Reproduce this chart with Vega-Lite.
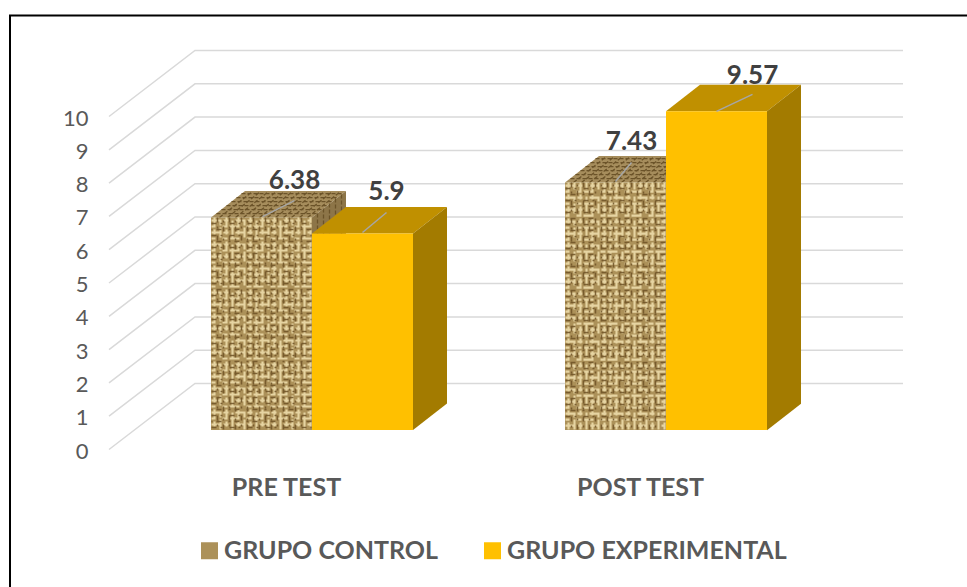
{
"$schema":"https://vega.github.io/schema/vega-lite/v6.json",
"width":967,"height":587,"padding":0,"autosize":{"type":"none"},"background":"white",
"config":{"view":{"stroke":null},"font":"Lato"},
"data":{"values":[
{"momento":"PRE TEST","grupo":"GRUPO CONTROL","valor":6.38},
{"momento":"PRE TEST","grupo":"GRUPO EXPERIMENTAL","valor":5.9},
{"momento":"POST TEST","grupo":"GRUPO CONTROL","valor":7.43},
{"momento":"POST TEST","grupo":"GRUPO EXPERIMENTAL","valor":9.57}
]},
"encoding":{
"x":{"field":"momento","type":"nominal","sort":["PRE TEST","POST TEST"],"title":null,
"scale":{"domain":["PRE TEST","POST TEST"],"range":[135,843],"paddingInner":0.4294,"paddingOuter":0.2147},
"axis":{"orient":"bottom","offset":-112,"domain":false,"ticks":false,"labelPadding":0,"labelAngle":0,"labelFontSize":25,"labelFontWeight":"bold","labelColor":"#595959","labelOffset":-25.5,"labelBaseline":"top","labelFont":"Lato"}},
"y":{"field":"valor","type":"quantitative","title":null,
"scale":{"domain":[-4.7147,12.913],"nice":false,"zero":false},
"axis":{"orient":"left","offset":-95,"values":[0,1,2,3,4,5,6,7,8,9,10],"domain":false,"ticks":false,"grid":false,"labelPadding":7,"labelFontSize":22,"labelColor":"#595959","labelOffset":21,"labelFont":"Lato","format":"d"}},
"xOffset":{"field":"grupo","type":"nominal","scale":{"domain":["GRUPO CONTROL","GRUPO EXPERIMENTAL"]}}
},
"resolve":{"scale":{"shape":"independent"}},
"layer":[
{"data":{"values":[{"valor":0},{"valor":1},{"valor":2},{"valor":3},{"valor":4},{"valor":5},{"valor":6},{"valor":7},{"valor":8},{"valor":9},{"valor":10}]},
"mark":{"type":"point","shape":"M-203,19.5L-117,-46.5L591,-46.5","size":4,"filled":false,"stroke":"#d9d9d9","strokeWidth":1.5,"opacity":1},
"encoding":{"x":{"datum":"PRE TEST"},"xOffset":null}},
{"data":{"values":[{"valor":0}]},
"mark":{"type":"point","shape":"M-302,157V-414.5H660","size":4,"filled":false,"stroke":"#000000","strokeWidth":2,"opacity":1},
"encoding":{"x":{"datum":"PRE TEST"},"xOffset":null}},

{"transform":[{"filter":"datum.grupo==='GRUPO CONTROL'"}],
"mark":{"type":"point","shape":"M-50.5,0L-16.5,-26.5L84.5,-26.5L50.5,0Z","size":4,"filled":true,"fill":"#a68d5c","strokeWidth":0,"opacity":1}},
{"transform":[{"filter":"datum.grupo==='GRUPO CONTROL'"}],
"mark":{"type":"point","filled":true,"size":4,"fill":"#8d7548","strokeWidth":0,"opacity":1},
"encoding":{"shape":{"field":"momento","type":"nominal","legend":null,"scale":{"domain":["PRE TEST","POST TEST"],"range":["M50.5,0L84.5,-26.5V186L50.5,212.5Z","M50.5,0L84.5,-26.5V221L50.5,247.5Z"]}}}},
{"transform":[{"filter":"datum.grupo==='GRUPO CONTROL'"}],
"mark":{"type":"point","shape":"M-45,-4h100m-95,-4h100m-95,-4h100m-95,-4h100m-95,-4h100m-95,-4h100M-42,0l33,-26m-25,26l33,-26m-25,26l33,-26m-25,26l33,-26m-25,26l33,-26m-25,26l33,-26m-25,26l33,-26m-25,26l33,-26m-25,26l33,-26m-25,26l33,-26m-25,26l33,-26m-25,26l33,-26M56,-4v36M62,-9v40M68,-14v46M74,-19v50M80,-23v54","size":4,"filled":false,"stroke":"#6b5329","strokeWidth":1.3,"strokeDash":[4,2],"opacity":1}},
{"transform":[{"filter":"datum.grupo==='GRUPO CONTROL'"}],
"mark":{"type":"bar","stroke":null,"strokeWidth":0},
"encoding":{"y2":{"datum":0},"y":{"field":"valor","type":"quantitative","stack":null},
"color":{"field":"grupo","type":"nominal","title":null,
"scale":{"domain":["GRUPO CONTROL","GRUPO EXPERIMENTAL"],"range":["#ac9159","#FFC000"]},
"legend":{"orient":"none","legendX":197,"legendY":538,"direction":"horizontal","columns":2,"symbolType":"square","symbolSize":289,"symbolStrokeWidth":0,"symbolOpacity":1,"labelFontSize":25,"labelFontWeight":"bold","labelColor":"#595959","labelFont":"Lato","columnPadding":41,"labelOffset":2,"labelLimit":400,"title":null}}}},
{"transform":[{"filter":"datum.grupo==='GRUPO CONTROL'"}],
"mark":{"type":"point","filled":false,"size":4,"stroke":"#e6d4a2","strokeWidth":2.1,"strokeDash":[10,2,5,7],"opacity":1},
"encoding":{"shape":{"field":"momento","type":"nominal","legend":null,"scale":{"domain":["PRE TEST","POST TEST"],"range":[
"M-50,3h100m0,6h-100m0,6h100m0,6h-100m0,6h100m0,6h-100m0,6h100m0,6h-100m0,6h100m0,6h-100m0,6h100m0,6h-100m0,6h100m0,6h-100m0,6h100m0,6h-100m0,6h100m0,6h-100m0,6h100m0,6h-100m0,6h100m0,6h-100m0,6h100m0,6h-100m0,6h100m0,6h-100m0,6h100m0,6h-100m0,6h100m0,6h-100m0,6h100m0,6h-100m0,6h100m0,6h-100m0,6h100M-47,0v212m6,0v-212m6,0v212m6,0v-212m6,0v212m6,0v-212m6,0v212m6,0v-212m6,0v212m6,0v-212m6,0v212m6,0v-212m6,0v212m6,0v-212m6,0v212m6,0v-212m6,0v212",
"M-50,3h100m0,6h-100m0,6h100m0,6h-100m0,6h100m0,6h-100m0,6h100m0,6h-100m0,6h100m0,6h-100m0,6h100m0,6h-100m0,6h100m0,6h-100m0,6h100m0,6h-100m0,6h100m0,6h-100m0,6h100m0,6h-100m0,6h100m0,6h-100m0,6h100m0,6h-100m0,6h100m0,6h-100m0,6h100m0,6h-100m0,6h100m0,6h-100m0,6h100m0,6h-100m0,6h100m0,6h-100m0,6h100m0,6h-100m0,6h100m0,6h-100m0,6h100m0,6h-100m0,6h100M-47,0v247m6,0v-247m6,0v247m6,0v-247m6,0v247m6,0v-247m6,0v247m6,0v-247m6,0v247m6,0v-247m6,0v247m6,0v-247m6,0v247m6,0v-247m6,0v247m6,0v-247m6,0v247"
]}}}},
{"transform":[{"filter":"datum.grupo==='GRUPO CONTROL'"}],
"mark":{"type":"point","filled":false,"size":4,"stroke":"#6e5226","strokeWidth":1.5,"strokeDash":[5,4,2,7],"opacity":0.85},
"encoding":{"shape":{"field":"momento","type":"nominal","legend":null,"scale":{"domain":["PRE TEST","POST TEST"],"range":[
"M-50,6h100m0,6h-100m0,6h100m0,6h-100m0,6h100m0,6h-100m0,6h100m0,6h-100m0,6h100m0,6h-100m0,6h100m0,6h-100m0,6h100m0,6h-100m0,6h100m0,6h-100m0,6h100m0,6h-100m0,6h100m0,6h-100m0,6h100m0,6h-100m0,6h100m0,6h-100m0,6h100m0,6h-100m0,6h100m0,6h-100m0,6h100m0,6h-100m0,6h100m0,6h-100m0,6h100m0,6h-100m0,6h100M-44,0v212m6,0v-212m6,0v212m6,0v-212m6,0v212m6,0v-212m6,0v212m6,0v-212m6,0v212m6,0v-212m6,0v212m6,0v-212m6,0v212m6,0v-212m6,0v212",
"M-50,6h100m0,6h-100m0,6h100m0,6h-100m0,6h100m0,6h-100m0,6h100m0,6h-100m0,6h100m0,6h-100m0,6h100m0,6h-100m0,6h100m0,6h-100m0,6h100m0,6h-100m0,6h100m0,6h-100m0,6h100m0,6h-100m0,6h100m0,6h-100m0,6h100m0,6h-100m0,6h100m0,6h-100m0,6h100m0,6h-100m0,6h100m0,6h-100m0,6h100m0,6h-100m0,6h100m0,6h-100m0,6h100m0,6h-100m0,6h100m0,6h-100m0,6h100M-44,0v247m6,0v-247m6,0v247m6,0v-247m6,0v247m6,0v-247m6,0v247m6,0v-247m6,0v247m6,0v-247m6,0v247m6,0v-247m6,0v247m6,0v-247m6,0v247"
]}}}},

{"transform":[{"filter":"datum.grupo==='GRUPO EXPERIMENTAL'"}],
"mark":{"type":"point","shape":"M-50.5,0L-16.5,-26.5L84.5,-26.5L50.5,0Z","size":4,"filled":true,"fill":"#c09000","strokeWidth":0,"opacity":1}},
{"transform":[{"filter":"datum.grupo==='GRUPO EXPERIMENTAL'"}],
"mark":{"type":"point","filled":true,"size":4,"fill":"#a37b00","strokeWidth":0,"opacity":1},
"encoding":{"shape":{"field":"momento","type":"nominal","legend":null,"scale":{"domain":["PRE TEST","POST TEST"],"range":["M50.5,0L84.5,-26.5V170L50.5,196.5Z","M50.5,0L84.5,-26.5V292.5L50.5,319Z"]}}}},
{"transform":[{"filter":"datum.grupo==='GRUPO EXPERIMENTAL'"}],
"mark":{"type":"bar","strokeWidth":0},
"encoding":{"y2":{"datum":0},"y":{"field":"valor","type":"quantitative","stack":null},
"color":{"field":"grupo","type":"nominal","title":null,"scale":{"domain":["GRUPO CONTROL","GRUPO EXPERIMENTAL"],"range":["#ac9159","#FFC000"]}}}},

{"transform":[{"filter":"datum.grupo==='GRUPO CONTROL'"}],
"mark":{"type":"point","filled":false,"size":4,"stroke":"#a6a6a6","strokeWidth":1.5,"opacity":1},
"encoding":{"shape":{"field":"momento","type":"nominal","legend":null,"scale":{"domain":["PRE TEST","POST TEST"],"range":["M1,-1L33,-17","M0,-1L16,-20"]}}}},
{"transform":[{"filter":"datum.grupo==='GRUPO EXPERIMENTAL'"}],
"mark":{"type":"point","filled":false,"size":4,"stroke":"#a6a6a6","strokeWidth":1.5,"opacity":1},
"encoding":{"shape":{"field":"momento","type":"nominal","legend":null,"scale":{"domain":["PRE TEST","POST TEST"],"range":["M0,-1L24,-21","M0,0L36,-17"]}}}},

{"transform":[{"filter":"datum.grupo==='GRUPO CONTROL' && datum.momento==='PRE TEST'"}],
"mark":{"type":"text","dx":33,"dy":-37,"fontSize":26,"fontWeight":"bold","fill":"#404040","font":"Lato"},
"encoding":{"text":{"field":"valor","type":"quantitative"}}},
{"transform":[{"filter":"datum.grupo==='GRUPO EXPERIMENTAL' && datum.momento==='PRE TEST'"}],
"mark":{"type":"text","dx":24,"dy":-42,"fontSize":26,"fontWeight":"bold","fill":"#404040","font":"Lato"},
"encoding":{"text":{"field":"valor","type":"quantitative"}}},
{"transform":[{"filter":"datum.grupo==='GRUPO CONTROL' && datum.momento==='POST TEST'"}],
"mark":{"type":"text","dx":16,"dy":-41,"fontSize":26,"fontWeight":"bold","fill":"#404040","font":"Lato"},
"encoding":{"text":{"field":"valor","type":"quantitative"}}},
{"transform":[{"filter":"datum.grupo==='GRUPO EXPERIMENTAL' && datum.momento==='POST TEST'"}],
"mark":{"type":"text","dx":36,"dy":-35,"fontSize":26,"fontWeight":"bold","fill":"#404040","font":"Lato"},
"encoding":{"text":{"field":"valor","type":"quantitative"}}}
]
}
